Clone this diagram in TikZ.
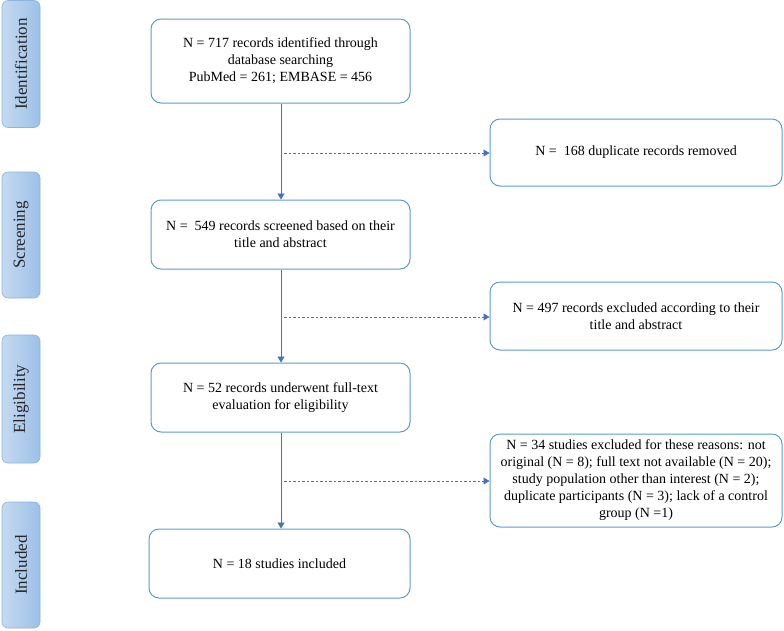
\documentclass[tikz,border=0pt]{standalone}
\usepackage{fontspec}
\setmainfont{Liberation Serif}
\usetikzlibrary{arrows.meta,positioning}
\definecolor{boxblue}{HTML}{5B9BD5}
\definecolor{linkblue}{HTML}{4472C4}
\definecolor{barl}{HTML}{C5DAF0}
\definecolor{bard}{HTML}{9CC0E8}
\definecolor{barb}{HTML}{8EB3DE}
\tikzset{
  mainbox/.style={draw=boxblue, line width=1pt, rounded corners=10pt, align=center, font=\fontsize{14}{17}\selectfont, text=black},
  sidebar/.style={draw=barb, line width=0.6pt, rounded corners=6pt, left color=barl, right color=bard, minimum width=38pt},
  sidelabel/.style={rotate=90, font=\fontsize{17}{19}\selectfont, text=black!85},
  solidarrow/.style={draw=linkblue, line width=0.7pt, -{Triangle[length=6pt,width=7pt]}},
  dasharrow/.style={draw=linkblue, line width=0.6pt, dash pattern=on 2.5pt off 2pt, -{Triangle[length=6pt,width=7pt]}},
}
\begin{document}
\begin{tikzpicture}[x=1pt,y=-1pt]
\useasboundingbox (0,0) rectangle (784,630);
% side bars
\node[sidebar, minimum height=127pt] (s1) at (21,64) {};
\node[sidelabel] at (s1) {Identification};
\node[sidebar, minimum height=126pt] (s2) at (21,235) {};
\node[sidelabel] at (s2) {Screening};
\node[sidebar, minimum height=128pt] (s3) at (21,399) {};
\node[sidelabel] at (s3) {Eligibility};
\node[sidebar, minimum height=126pt] (s4) at (21,565) {};
\node[sidelabel] at (s4) {Included};
% main boxes
\node[mainbox, minimum width=259pt, minimum height=84pt] (b1) at (280.5,61) {N = 717 records identified through\\database searching\\PubMed = 261; EMBASE = 456};
\node[mainbox, minimum width=259pt, minimum height=69pt] (b2) at (280.5,234.5) {N =\ \ 549 records screened based on their\\title and abstract};
\node[mainbox, minimum width=259pt, minimum height=69pt] (b3) at (280.5,397.5) {N = 52 records underwent full-text\\evaluation for eligibility};
\node[mainbox, minimum width=261pt, minimum height=69pt] (b4) at (279.5,563.5) {N = 18 studies included};
% right boxes
\node[mainbox, minimum width=292pt, minimum height=67pt] (r1) at (636,152.5) {N =\ \ 168 duplicate records removed};
\node[mainbox, minimum width=292pt, minimum height=68pt] (r2) at (636,316) {N = 497 records excluded according to their\\title and abstract};
\node[mainbox, minimum width=292pt, minimum height=93pt] (r3) at (636,480.5) {N = 34 studies excluded for these reasons: not\\original (N = 8); full text not available (N = 20);\\study population other than interest (N = 2);\\duplicate participants (N = 3); lack of a control\\group (N =1)};
% connectors
\draw[solidarrow] (b1.south -| 281,0) -- (b2.north -| 281,0);
\draw[solidarrow] (b2.south -| 281,0) -- (b3.north -| 281,0);
\draw[solidarrow] (b3.south -| 281,0) -- (b4.north -| 281,0);
\coordinate (d1) at (284,153);
\coordinate (d2) at (284,317);
\coordinate (d3) at (284,481);
\draw[dasharrow] (d1) -- (r1.west |- d1);
\draw[dasharrow] (d2) -- (r2.west |- d2);
\draw[dasharrow] (d3) -- (r3.west |- d3);
\end{tikzpicture}
\end{document}
